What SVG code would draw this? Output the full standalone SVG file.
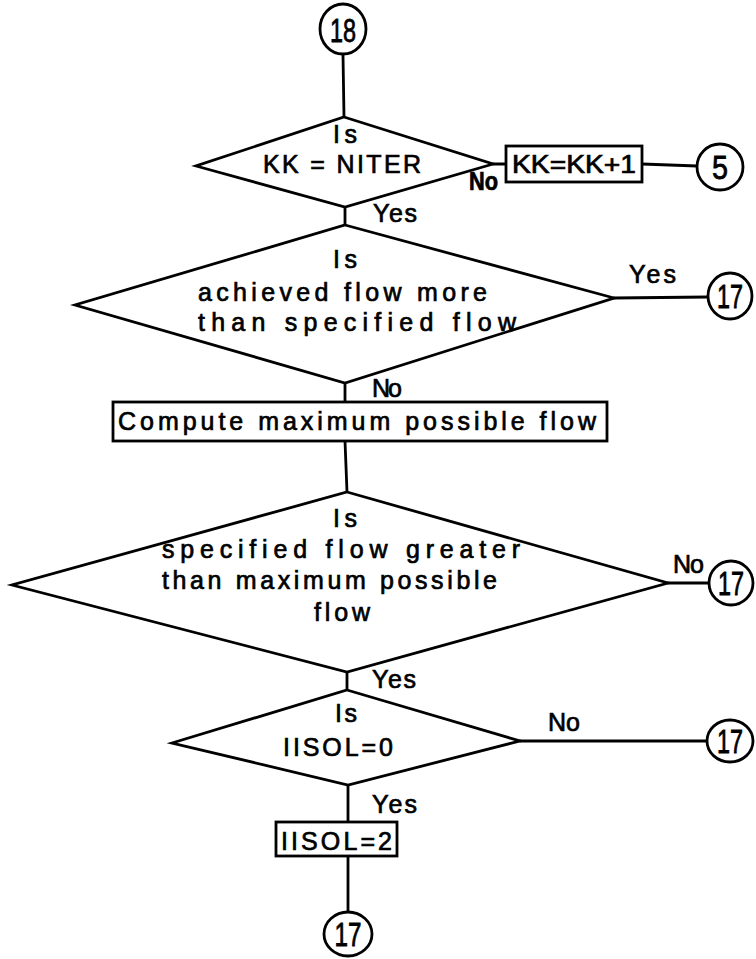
<svg xmlns="http://www.w3.org/2000/svg" width="756" height="959" viewBox="0 0 756 959">
<style>
.ln{stroke:#000;stroke-width:2.8;fill:none;stroke-linecap:round}
.sh{fill:#fff;stroke:#000;stroke-width:2.8;stroke-linejoin:miter}
.t{font-family:"Liberation Sans","DejaVu Sans",sans-serif;font-size:25px;fill:#000;stroke:#000;stroke-width:0.7}
.m{text-anchor:middle}
.b{font-weight:bold}
.n{font-family:"Liberation Sans","DejaVu Sans",sans-serif;font-size:34px;fill:#000;stroke:#000;stroke-width:0.8;text-anchor:middle}
</style>
<rect width="756" height="959" fill="#fff"/>
<g id="connectors">
<line class="ln" x1="343" y1="55" x2="344" y2="117"/>
<line class="ln" x1="493" y1="164" x2="506" y2="164"/>
<line class="ln" x1="642" y1="164" x2="697" y2="166"/>
<line class="ln" x1="345" y1="207" x2="345" y2="225"/>
<line class="ln" x1="614" y1="298" x2="708" y2="297"/>
<line class="ln" x1="345" y1="383" x2="345" y2="402"/>
<line class="ln" x1="345" y1="441" x2="347" y2="492"/>
<line class="ln" x1="668" y1="583" x2="710" y2="583"/>
<line class="ln" x1="347" y1="672" x2="347" y2="690"/>
<line class="ln" x1="520" y1="741" x2="707" y2="741"/>
<line class="ln" x1="348" y1="785" x2="348" y2="822"/>
<line class="ln" x1="348" y1="856" x2="348" y2="912"/>
</g>
<g id="c18">
<ellipse class="sh" cx="343" cy="29" rx="23" ry="25"/>
<text class="n" x="343" y="42" textLength="26" lengthAdjust="spacingAndGlyphs">18</text>
</g>
<g id="d1">
<polygon class="sh" points="344,117 493,164 345,207 196,166"/>
<text class="t m" x="345" y="143" textLength="24">Is</text>
<text class="t m" x="342" y="173" textLength="158">KK = NITER</text>
</g>
<g id="l_d1_no"><text class="t b" x="469" y="190" textLength="29" lengthAdjust="spacingAndGlyphs">No</text></g>
<g id="l_d1_yes"><text class="t" x="373" y="222" textLength="44">Yes</text></g>
<g id="b1">
<rect class="sh" x="506" y="146" width="136" height="36"/>
<text class="t" x="512" y="173" textLength="124" lengthAdjust="spacingAndGlyphs">KK=KK+1</text>
</g>
<g id="c5">
<ellipse class="sh" cx="720" cy="167" rx="23" ry="23"/>
<text class="n" x="720" y="179" textLength="16" lengthAdjust="spacingAndGlyphs">5</text>
</g>
<g id="d2">
<polygon class="sh" points="345,225 614,298 345,383 75,305"/>
<text class="t m" x="345" y="268" textLength="24">Is</text>
<text class="t" x="198" y="301" textLength="289">achieved flow more</text>
<text class="t" x="198" y="331" textLength="318">than specified flow</text>
</g>
<g id="l_d2_yes"><text class="t" x="629" y="283" textLength="47">Yes</text></g>
<g id="c17a">
<ellipse class="sh" cx="730" cy="296" rx="22" ry="23"/>
<text class="n" x="730" y="308" textLength="26" lengthAdjust="spacingAndGlyphs">17</text>
</g>
<g id="l_d2_no"><text class="t" x="372" y="397" textLength="30">No</text></g>
<g id="b2">
<rect class="sh" x="113" y="402" width="494" height="39"/>
<text class="t" x="118" y="430" textLength="478">Compute maximum possible flow</text>
</g>
<g id="d3">
<polygon class="sh" points="347,492 668,583 347,672 12,585"/>
<text class="t m" x="345" y="527" textLength="24">Is</text>
<text class="t" x="162" y="558" textLength="358">specified flow greater</text>
<text class="t" x="162" y="589" textLength="335">than maximum possible</text>
<text class="t" x="314" y="621" textLength="56">flow</text>
</g>
<g id="l_d3_no"><text class="t" x="673" y="573" textLength="31">No</text></g>
<g id="c17b">
<ellipse class="sh" cx="731" cy="583" rx="22" ry="22"/>
<text class="n" x="731" y="595" textLength="26" lengthAdjust="spacingAndGlyphs">17</text>
</g>
<g id="l_d3_yes"><text class="t" x="372" y="688" textLength="44">Yes</text></g>
<g id="d4">
<polygon class="sh" points="347,690 520,741 348,785 172,743"/>
<text class="t m" x="346" y="722" textLength="22">Is</text>
<text class="t" x="283" y="756" textLength="110">IISOL=0</text>
</g>
<g id="l_d4_no"><text class="t" x="548" y="731" textLength="32">No</text></g>
<g id="c17c">
<ellipse class="sh" cx="730" cy="741" rx="23" ry="21"/>
<text class="n" x="730" y="753" textLength="26" lengthAdjust="spacingAndGlyphs">17</text>
</g>
<g id="l_d4_yes"><text class="t" x="372" y="813" textLength="45">Yes</text></g>
<g id="b3">
<rect class="sh" x="276" y="822" width="121" height="34"/>
<text class="t" x="281" y="850" textLength="111">IISOL=2</text>
</g>
<g id="c17d">
<ellipse class="sh" cx="348" cy="934" rx="24" ry="22"/>
<text class="n" x="348" y="946" textLength="27" lengthAdjust="spacingAndGlyphs">17</text>
</g>
</svg>
